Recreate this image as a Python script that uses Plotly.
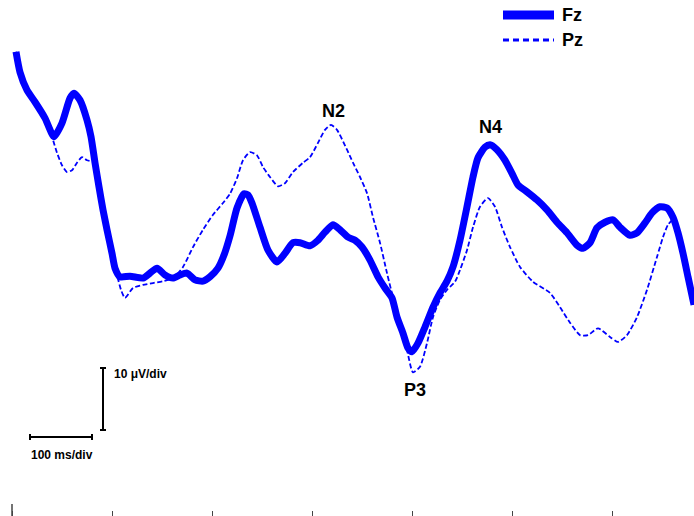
import plotly.graph_objects as go

# time (ms) and amplitude (µV, negative plotted upward)
fz_time = [4, 8, 15, 23, 33, 42, 50, 58, 62, 68, 75, 79, 83, 87, 91, 95, 100, 103, 108,
           118, 131, 138, 145, 153, 161, 168, 175, 183, 191, 198, 206, 212, 218, 225, 232,
           236, 240, 248, 256, 265, 273, 281, 288, 298, 306, 313, 321, 328, 336, 343, 350,
           358, 366, 373, 380, 385, 391, 396, 400, 406, 413, 421, 428, 435, 441, 448, 455,
           461, 466, 473, 478, 485, 493, 500, 506, 515, 525, 535, 545, 555, 565, 571, 578,
           585, 593, 601, 608, 618, 625, 633, 640, 648, 655, 661, 666, 671, 676, 682]
fz_uv = [-35.2, -31.9, -29.0, -27.1, -24.5, -21.5, -23.7, -27.7, -28.5, -27.4, -24.2, -21.5,
         -17.3, -13.4, -9.7, -6.5, -2.7, -0.3, 1.1, 1.0, 1.3, 0.5, -0.3, 0.8, 1.3, 0.8, 0.5,
         1.6, 1.8, 1.1, -0.3, -2.4, -5.5, -10.0, -12.3, -12.1, -10.8, -6.9, -3.2, -1.3, -2.7,
         -4.4, -4.4, -3.9, -4.8, -6.1, -7.3, -6.5, -5.3, -4.8, -3.7, -1.6, 1.1, 2.9, 4.5, 7.6,
         10.2, 12.6, 13.2, 11.8, 9.2, 6.0, 3.7, 1.8, -0.5, -4.8, -10.2, -15.0, -18.1, -19.8,
         -20.2, -19.4, -17.7, -15.6, -13.7, -12.6, -11.3, -9.7, -7.7, -6.0, -4.0, -3.5, -4.4,
         -6.8, -7.7, -8.1, -6.9, -5.6, -6.0, -7.6, -9.2, -10.2, -10.0, -8.5, -6.0, -2.7, 1.1, 5.6]

pz_time = [4, 8, 15, 23, 33, 40, 45, 50, 55, 60, 65, 70, 75, 83, 87, 91, 95, 100, 105, 109,
           113, 121, 131, 141, 151, 161, 171, 181, 191, 201, 211, 218, 225, 231, 238, 245, 251,
           258, 266, 273, 281, 291, 298, 306, 313, 319, 325, 335, 341, 348, 355, 361, 368, 375,
           381, 388, 395, 401, 408, 415, 421, 428, 435, 443, 448, 455, 461, 468, 476, 483, 490,
           498, 508, 521, 538, 548, 558, 568, 576, 586, 598, 606, 615, 625, 635, 645, 651, 656,
           661, 666, 671, 676, 682]
pz_uv = [-35.2, -31.9, -29.0, -27.1, -24.5, -21.5, -18.9, -16.9, -15.8, -16.1, -17.3, -18.2,
         -17.7, -17.3, -13.4, -9.7, -6.5, -2.4, 0.8, 3.2, 4.5, 2.9, 2.4, 2.1, 1.8, 1.3, -0.5,
         -3.7, -6.5, -8.9, -10.8, -12.3, -14.8, -17.7, -19.0, -18.5, -16.6, -15.0, -13.5, -14.0,
         -15.8, -17.3, -18.2, -20.5, -22.6, -23.4, -22.6, -19.4, -17.3, -15.0, -12.4, -8.5,
         -4.4, 0.5, 4.4, 8.5, 12.9, 16.5, 15.6, 11.8, 7.6, 4.8, 3.2, 1.9, 0.0, -3.2, -6.9,
         -10.2, -11.6, -10.2, -6.9, -3.7, -0.5, 1.9, 3.7, 6.0, 8.5, 10.5, 10.5, 9.4, 10.8,
         11.6, 10.5, 7.6, 3.2, -2.1, -5.3, -7.3, -8.1, -6.0, -2.7, 1.1, 5.6]

tick_ms = [0, 100, 200, 300, 400, 500, 600]

peaks = [("N2", 321, -25.6), ("N4", 478, -23.1), ("P3", 403, 19.4)]

BLUE = "#0000FF"
FONT = "Liberation Sans, Arial, sans-serif"

W, H = 694, 516

fig = go.Figure()
fig.add_trace(go.Scatter(x=pz_time, y=pz_uv, mode="lines", name="Pz",
                         line=dict(color=BLUE, width=1.8, dash="5px,2.5px", shape="spline",
                                   smoothing=0.6),
                         showlegend=False, hoverinfo="skip"))
fig.add_trace(go.Scatter(x=fz_time, y=fz_uv, mode="lines", name="Fz",
                         line=dict(color=BLUE, width=7, shape="spline", smoothing=0.6),
                         showlegend=False, hoverinfo="skip"))

for label, t, v in peaks:
    fig.add_annotation(x=t, y=v, text=f"<b>{label}</b>", showarrow=False,
                       font=dict(family=FONT, size=18, color="black"))


def px(x):
    return x / W


def py(y):
    return 1 - y / H


# Legend (drawn manually)
fig.add_shape(type="line", xref="paper", yref="paper", x0=px(503), x1=px(554),
              y0=py(15), y1=py(15), line=dict(color=BLUE, width=9))
fig.add_shape(type="line", xref="paper", yref="paper", x0=px(503), x1=px(554),
              y0=py(40), y1=py(40), line=dict(color=BLUE, width=3, dash="6px,4px"))
fig.add_annotation(xref="paper", yref="paper", x=px(560), y=py(15), text="<b>Fz</b>",
                   showarrow=False, xanchor="left", yanchor="middle",
                   font=dict(family=FONT, size=18, color="black"))
fig.add_annotation(xref="paper", yref="paper", x=px(560), y=py(40), text="<b>Pz</b>",
                   showarrow=False, xanchor="left", yanchor="middle",
                   font=dict(family=FONT, size=18, color="black"))

# Scale bars
bar = dict(color="black", width=2)
fig.add_shape(type="line", xref="paper", yref="paper", x0=px(103), x1=px(103),
              y0=py(368), y1=py(430), line=bar)
for yy in (368, 430):
    fig.add_shape(type="line", xref="paper", yref="paper", x0=px(100), x1=px(106),
                  y0=py(yy), y1=py(yy), line=bar)
fig.add_shape(type="line", xref="paper", yref="paper", x0=px(30), x1=px(92),
              y0=py(437), y1=py(437), line=bar)
for xx in (30, 92):
    fig.add_shape(type="line", xref="paper", yref="paper", x0=px(xx), x1=px(xx),
                  y0=py(434), y1=py(440), line=bar)
fig.add_annotation(xref="paper", yref="paper", x=px(112), y=py(374), text="<b>10 μV/div</b>",
                   showarrow=False, xanchor="left", yanchor="middle",
                   font=dict(family=FONT, size=12, color="black"))
fig.add_annotation(xref="paper", yref="paper", x=px(29), y=py(455), text="<b>100 ms/div</b>",
                   showarrow=False, xanchor="left", yanchor="middle",
                   font=dict(family=FONT, size=12, color="black"))

# longer first tick
fig.add_shape(type="line", xref="x", yref="paper", x0=tick_ms[0], x1=tick_ms[0],
              y0=0, y1=12 / H, line=dict(color="#444444", width=1.5))

fig.update_layout(
    width=W, height=H,
    margin=dict(l=0, r=0, t=0, b=0),
    paper_bgcolor="white", plot_bgcolor="white",
    showlegend=False,
    hovermode=False,
    xaxis=dict(range=[-12, 682], showgrid=False, zeroline=False, showline=False,
               ticks="inside", ticklen=5, tickwidth=1, tickcolor="#444444",
               tickvals=tick_ms, showticklabels=False, fixedrange=True),
    yaxis=dict(range=[(516 - 270) / 6.2, (0 - 270) / 6.2], showgrid=False, zeroline=False,
               showline=False, showticklabels=False, ticks="", fixedrange=True),
)

fig.write_html(
    "out.html",
    config={"displayModeBar": False, "staticPlot": True},
    post_script="document.body.style.margin='0';document.body.style.overflow='hidden';",
)
